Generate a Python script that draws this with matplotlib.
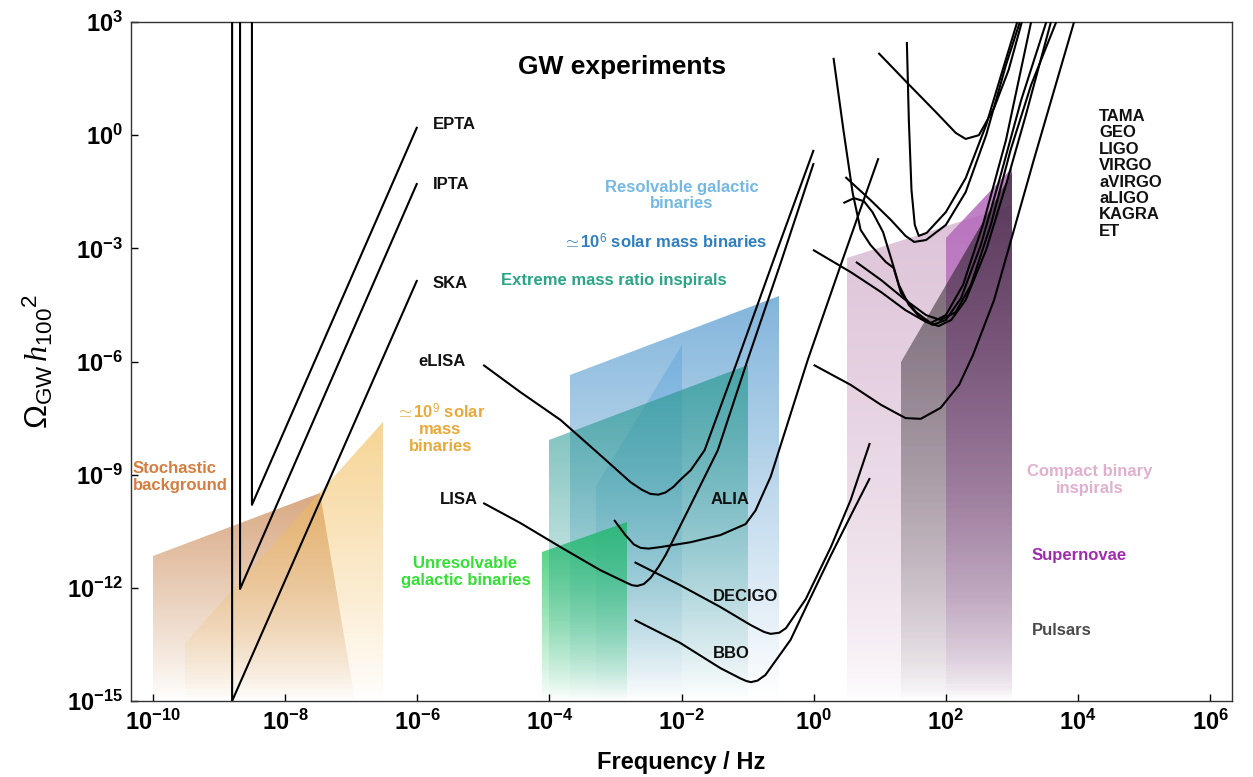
import numpy as np
import matplotlib
matplotlib.use("Agg")
import matplotlib.pyplot as plt
from matplotlib.patches import Polygon
from matplotlib.colors import LinearSegmentedColormap, to_rgb
from matplotlib.ticker import NullLocator, FixedLocator, FuncFormatter

plt.rcParams['font.family'] = ['Liberation Sans', 'DejaVu Sans']
plt.rcParams['mathtext.fontset'] = 'custom'
plt.rcParams['mathtext.rm'] = 'Liberation Sans'
plt.rcParams['mathtext.it'] = 'Liberation Serif:italic'
plt.rcParams['mathtext.bf'] = 'Liberation Sans:bold'

# ---------------- data (log10 f [Hz], log10 Omega h^2) ----------------
# Pulsar timing arrays
epta_lf = [-8.50, -8.50, -6.0]
epta_lo = [3.0, -9.80, 0.22]
ipta_lf = [-8.68, -8.68, -6.0]
ipta_lo = [3.0, -12.03, -1.27]
ska_lf = [-8.80, -8.80, -6.0]
ska_lo = [3.0, -15.0, -3.84]

# Space interferometers
elisa_lf = [-5.0, -4.44, -3.83, -3.23, -2.77, -2.60, -2.47, -2.35, -2.24, -2.12, -2.02, -1.86, -1.65, -1.15, -0.58, 0.0]
elisa_lo = [-6.09, -6.81, -7.55, -8.48, -9.20, -9.40, -9.51, -9.53, -9.47, -9.32, -9.14, -8.88, -8.35, -5.96, -3.18, -0.39]
lisa_lf = [-5.0, -4.44, -3.83, -3.23, -2.85, -2.75, -2.67, -2.57, -2.47, -2.35, -2.24, -1.86, -1.45, -1.0, -0.5, 0.0]
lisa_lo = [-9.75, -10.28, -10.92, -11.53, -11.85, -11.93, -11.95, -11.90, -11.74, -11.45, -11.13, -9.80, -8.35, -5.96, -3.39, -0.74]
alia_lf = [-3.02, -2.85, -2.72, -2.62, -2.50, -2.32, -1.86, -1.41, -1.03, -0.88, -0.65, -0.09, 0.41, 0.98]
alia_lo = [-10.20, -10.60, -10.85, -10.94, -10.96, -10.92, -10.79, -10.60, -10.31, -9.95, -9.05, -5.96, -3.44, -0.61]
decigo_lf = [-2.71, -2.02, -1.41, -0.95, -0.75, -0.65, -0.52, -0.42, -0.12, 0.26, 0.56, 0.85]
decigo_lo = [-11.32, -11.93, -12.51, -12.99, -13.17, -13.22, -13.19, -13.07, -12.30, -10.92, -9.67, -8.16]
bbo_lf = [-2.71, -2.02, -1.41, -1.11, -1.02, -0.95, -0.85, -0.73, -0.35, -0.05, 0.26, 0.56, 0.85]
bbo_lo = [-12.85, -13.46, -14.13, -14.40, -14.47, -14.50, -14.46, -14.31, -13.38, -12.27, -11.14, -10.09, -9.09]

# Ground-based detectors
tama_lf = [0.98, 1.42, 1.85, 2.15, 2.30, 2.50, 2.73, 2.95, 3.15]
tama_lo = [2.18, 1.38, 0.61, 0.06, -0.10, 0.0, 0.72, 1.73, 3.0]
geo_lf = [1.41, 1.44, 1.48, 1.53, 1.59, 1.71, 2.0, 2.30, 2.61, 2.86, 3.08]
geo_lo = [2.47, 0.40, -1.45, -2.38, -2.67, -2.59, -2.04, -1.14, 0.27, 1.73, 3.0]
ligo_lf = [0.30, 0.45, 0.59, 0.71, 0.86, 1.09, 1.21, 1.32, 1.55, 1.77, 2.0, 2.26, 2.56, 2.91, 3.29]
ligo_lo = [2.05, 0.14, -1.53, -2.51, -2.91, -3.36, -3.52, -4.18, -4.69, -4.98, -4.77, -3.97, -2.38, -0.13, 3.0]
virgo_lf = [0.48, 0.86, 1.17, 1.39, 1.52, 1.70, 2.0, 2.30, 2.61, 2.91, 3.12]
virgo_lo = [-1.11, -1.72, -2.25, -2.67, -2.83, -2.78, -2.38, -1.51, 0.0, 1.86, 3.0]
avirgo_lf = [0.45, 0.61, 0.76, 0.89, 1.05, 1.17, 1.29, 1.44, 1.62, 1.80, 2.0, 2.23, 2.53, 2.83, 3.14, 3.52]
avirgo_lo = [-1.80, -1.67, -1.75, -2.04, -2.57, -3.26, -3.97, -4.50, -4.85, -5.03, -4.90, -4.32, -2.91, -1.06, 0.93, 3.0]
aligo_lf = [-0.01, 0.56, 1.02, 1.39, 1.70, 1.89, 2.08, 2.30, 2.61, 2.91, 3.21, 3.59]
aligo_lo = [-3.04, -3.63, -4.16, -4.64, -4.95, -5.06, -4.90, -4.37, -3.04, -1.32, 0.53, 3.0]
kagra_lf = [0.64, 1.02, 1.39, 1.70, 1.92, 2.15, 2.38, 2.68, 2.98, 3.29, 3.67]
kagra_lo = [-3.36, -3.84, -4.37, -4.77, -4.90, -4.69, -3.97, -2.38, -0.39, 1.33, 3.0]
et_lf = [0.0, 0.56, 1.02, 1.39, 1.62, 1.92, 2.20, 2.41, 2.73, 3.33, 3.94]
et_lo = [-6.09, -6.62, -7.15, -7.50, -7.52, -7.23, -6.62, -5.83, -4.37, -0.66, 3.0]

# Source regions (polygons)
stoch_lf = [-10.0, -7.47, -6.94, -10.0]
stoch_lo = [-11.16, -9.49, -15.0, -15.0]
smbh9_lf = [-9.52, -6.52, -6.52, -9.52]
smbh9_lo = [-13.46, -7.60, -15.0, -15.0]
unres_lf = [-4.11, -2.82, -2.82, -4.11]
unres_lo = [-11.05, -10.26, -15.0, -15.0]
emri_lf = [-4.0, -1.0, -1.0, -4.0]
emri_lo = [-8.08, -6.09, -15.0, -15.0]
smbh6_lf = [-3.68, -0.53, -0.53, -3.68]
smbh6_lo = [-6.36, -4.26, -15.0, -15.0]
resolv_lf = [-3.3, -2.0, -2.0, -3.3]
resolv_lo = [-9.3, -5.56, -15.0, -15.0]
cbc_lf = [0.50, 3.0, 3.0, 0.50]
cbc_lo = [-3.26, -1.84, -15.0, -15.0]
sn_lf = [2.0, 3.0, 3.0, 2.0]
sn_lo = [-2.73, -0.87, -15.0, -15.0]
psr_lf = [1.32, 3.0, 3.0, 1.32]
psr_lo = [-6.01, -0.98, -15.0, -15.0]

detector_names = ["TAMA", "GEO", "LIGO", "VIRGO", "aVIRGO", "aLIGO", "KAGRA", "ET"]

# ---------------- figure ----------------
fig = plt.figure(figsize=(12.53, 7.77), dpi=100)
ax = fig.add_axes([131/1253, 1-701/777, (1232-131)/1253, (701-22)/777])
ax.set_xscale('log')
ax.set_yscale('log')
ax.set_xlim(10**-10.33, 10**6.33)
ax.set_ylim(1e-15, 1e3)


def region(lf, lo, color, atop, z, gamma=1.0):
    f = 10.0**np.array(lf)
    o = 10.0**np.array(lo)
    poly = Polygon(np.column_stack([f, o]), closed=True, facecolor='none',
                   edgecolor='none', transform=ax.transData)
    ax.add_patch(poly)
    ytop = max(lo)
    n = 160
    yedges = np.logspace(-15, ytop, n + 1)
    xedges = np.array([f.min(), f.max()])
    t = np.linspace(0, 1, n)[:, None] ** gamma
    rgb = to_rgb(color)
    cmap = LinearSegmentedColormap.from_list('g', [(*rgb, 0.0), (*rgb, atop)])
    m = ax.pcolormesh(xedges, yedges, t, cmap=cmap, vmin=0, vmax=1,
                      shading='flat', zorder=z, antialiased=False,
                      edgecolors='none', linewidth=0)
    m.set_clip_path(poly)


region(stoch_lf, stoch_lo, '#c8844e', 0.70, 1.0, 0.9)
region(smbh9_lf, smbh9_lo, '#f2bd5c', 0.65, 1.1, 0.9)
region(unres_lf, unres_lo, '#28c865', 0.90, 1.3, 0.9)
region(emri_lf, emri_lo, '#2a9a92', 0.72, 1.4, 1.0)
region(smbh6_lf, smbh6_lo, '#4d95cc', 0.70, 1.2, 1.0)
region(resolv_lf, resolv_lo, '#5aa3dc', 0.45, 1.25, 1.0)
region(cbc_lf, cbc_lo, '#dcc0d6', 0.95, 1.0, 0.6)
region(sn_lf, sn_lo, '#b060b8', 0.85, 1.1, 0.8)
region(psr_lf, psr_lo, '#1e181e', 0.62, 1.2, 0.8)

curves = [
    (epta_lf, epta_lo), (ipta_lf, ipta_lo), (ska_lf, ska_lo),
    (elisa_lf, elisa_lo), (lisa_lf, lisa_lo), (alia_lf, alia_lo),
    (decigo_lf, decigo_lo), (bbo_lf, bbo_lo),
    (tama_lf, tama_lo), (geo_lf, geo_lo), (ligo_lf, ligo_lo),
    (virgo_lf, virgo_lo), (avirgo_lf, avirgo_lo), (aligo_lf, aligo_lo),
    (kagra_lf, kagra_lo), (et_lf, et_lo),
]
for lf, lo in curves:
    ax.plot(10.0**np.array(lf), 10.0**np.array(lo), color='black', lw=1.5,
            zorder=5, solid_joinstyle='round', solid_capstyle='butt')

# ---------------- labels ----------------
lab = dict(fontsize=12, fontweight='bold', color='#111111', zorder=6)
ax.text(10**-5.76, 10**0.27, "EPTA", ha='left', va='center', **lab)
ax.text(10**-5.76, 10**-1.32, "IPTA", ha='left', va='center', **lab)
ax.text(10**-5.76, 10**-3.92, "SKA", ha='left', va='center', **lab)
ax.text(10**-5.98, 10**-6.01, "eLISA", ha='left', va='center', **lab)
ax.text(10**-5.65, 10**-9.67, "LISA", ha='left', va='center', **lab)
ax.text(10**-1.56, 10**-9.67, "ALIA", ha='left', va='center', **lab)
ax.text(10**-1.52, 10**-12.24, "DECIGO", ha='left', va='center', **lab)
ax.text(10**-1.52, 10**-13.75, "BBO", ha='left', va='center', **lab)
ax.text(10**4.32, 10**0.70, "\n".join(detector_names), ha='left', va='top',
        linespacing=1.12, **lab)

clab = dict(fontsize=12, fontweight='bold', ha='center', va='center', zorder=6)
ax.text(10**-2.0, 10**-1.59, "Resolvable galactic\nbinaries", color='#74b8e4',
        linespacing=1.1, **clab)
ax.text(10**-2.24, 10**-2.83, r"$\simeq$10$^{6}$ solar mass binaries",
        color='#2f7fc0', **clab)
ax.text(10**-3.02, 10**-3.84, "Extreme mass ratio inspirals", color='#2aa585',
        **clab)
ax.text(10**-5.65, 10**-7.76, "$\\simeq$10$^{9}$ solar\nmass\nbinaries",
        color='#e9a93a', linespacing=1.1, **clab)
ax.text(10**-10.30, 10**-9.06, "Stochastic\nbackground", color='#d57d3e',
        fontsize=12, fontweight='bold', ha='left', va='center',
        linespacing=1.1, zorder=6)
ax.text(10**-5.27, 10**-11.58, "Unresolvable\ngalactic binaries",
        color='#33e033', linespacing=1.1, **clab)
ax.text(10**4.17, 10**-9.14, "Compact binary\ninspirals", color='#e0b0cf',
        linespacing=1.1, **clab)
ax.text(10**3.30, 10**-11.13, "Supernovae", color='#a02cae', fontsize=12,
        fontweight='bold', ha='left', va='center', zorder=6)
ax.text(10**3.30, 10**-13.12, "Pulsars", color='#4a4a4a', fontsize=12,
        fontweight='bold', ha='left', va='center', zorder=6)

ax.text(0.446, 0.934, "GW experiments", transform=ax.transAxes, fontsize=19,
        fontweight='bold', ha='center', va='center', zorder=6)

# ---------------- axes styling ----------------
xt = 10.0**np.arange(-10, 7, 2)
yt = 10.0**np.arange(-15, 4, 3)
ax.xaxis.set_major_locator(FixedLocator(xt))
ax.yaxis.set_major_locator(FixedLocator(yt))
ax.xaxis.set_minor_locator(NullLocator())
ax.yaxis.set_minor_locator(NullLocator())
fmt = FuncFormatter(lambda v, p: r'$\mathbf{10^{%d}}$' % int(round(np.log10(v))))
ax.xaxis.set_major_formatter(fmt)
ax.yaxis.set_major_formatter(fmt)
ax.tick_params(direction='in', length=5, width=1, labelsize=17, pad=6,
               top=False, right=False)
for s in ax.spines.values():
    s.set_linewidth(1.0)
    s.set_color('#333333')

ax.set_xlabel("Frequency / Hz", fontsize=17, fontweight='bold', labelpad=12)
ax.set_ylabel(r"$\Omega_{\mathrm{GW}}\,\mathit{h}_{100}{}^{2}$", fontsize=23,
              labelpad=8)

fig.savefig("out.png", dpi=100)
